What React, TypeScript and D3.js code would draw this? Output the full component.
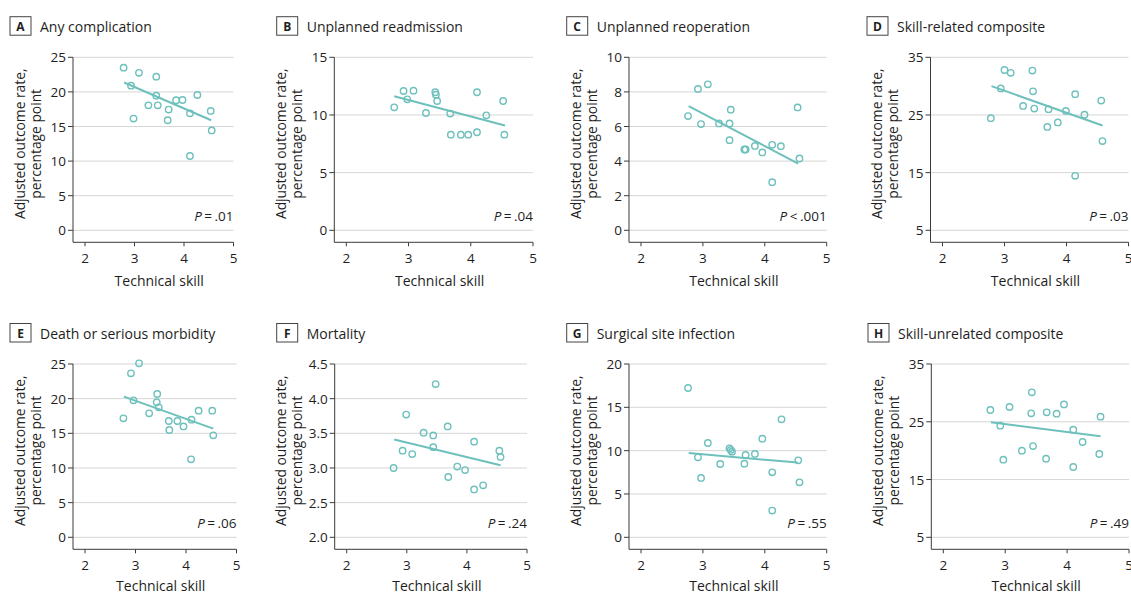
import React from "react";
import * as d3 from "d3";

// ---------- data ----------
const skillA = [2.78, 2.93, 3.09, 2.98, 3.44, 3.44, 3.28, 3.47, 3.69, 3.67, 3.84, 3.97, 4.12, 4.27, 4.54, 4.56, 4.12];
const rateA = [23.5, 20.9, 22.75, 16.15, 22.2, 19.45, 18.06, 18.06, 17.44, 15.9, 18.8, 18.83, 16.9, 19.55, 17.25, 14.43, 10.74];
const trendA = [[2.79, 21.36], [4.55, 15.9]];

const skillB = [2.77, 2.92, 2.98, 3.08, 3.28, 3.43, 3.44, 3.46, 3.67, 3.68, 3.84, 3.96, 4.1, 4.1, 4.25, 4.52, 4.54];
const rateB = [10.66, 12.08, 11.36, 12.11, 10.17, 11.97, 11.76, 11.21, 10.12, 8.29, 8.29, 8.29, 11.97, 8.5, 9.97, 11.21, 8.29];
const trendB = [[2.77, 11.62], [4.55, 9.08]];

const skillC = [2.76, 2.92, 3.08, 2.97, 3.26, 3.43, 3.45, 3.43, 3.67, 3.69, 3.84, 3.96, 4.12, 4.26, 4.12, 4.53, 4.56];
const rateC = [6.6, 8.17, 8.44, 6.14, 6.18, 6.18, 6.97, 5.21, 4.67, 4.67, 4.88, 4.5, 4.94, 4.86, 2.78, 7.1, 4.15];
const trendC = [[2.77, 7.18], [4.54, 3.86]];

const skillD = [2.78, 2.94, 3.0, 3.1, 3.3, 3.45, 3.46, 3.48, 3.69, 3.71, 3.86, 3.99, 4.14, 4.14, 4.29, 4.56, 4.58];
const rateD = [24.45, 29.6, 32.8, 32.3, 26.56, 32.7, 29.1, 26.1, 22.93, 26.0, 23.7, 25.7, 28.6, 14.44, 25.04, 27.5, 20.47];
const trendD = [[2.79, 30.0], [4.58, 23.17]];

const skillE = [2.76, 2.91, 3.07, 2.96, 3.27, 3.43, 3.42, 3.46, 3.66, 3.67, 3.83, 3.95, 4.11, 4.1, 4.25, 4.52, 4.54];
const rateE = [17.16, 23.65, 25.1, 19.76, 17.88, 20.67, 19.47, 18.75, 16.78, 15.48, 16.78, 16.0, 16.97, 11.25, 18.27, 18.27, 14.71];
const trendE = [[2.77, 20.29], [4.54, 15.67]];

const skillF = [2.78, 2.93, 2.99, 3.09, 3.28, 3.44, 3.44, 3.48, 3.68, 3.69, 3.84, 3.97, 4.12, 4.12, 4.27, 4.54, 4.56];
const rateF = [3.0, 3.25, 3.77, 3.2, 3.51, 3.47, 3.3, 4.21, 3.6, 2.87, 3.02, 2.97, 3.38, 2.69, 2.75, 3.25, 3.16];
const trendF = [[2.79, 3.41], [4.56, 3.04]];

const skillG = [2.76, 2.92, 2.97, 3.08, 3.28, 3.43, 3.45, 3.47, 3.69, 3.67, 3.84, 3.96, 4.12, 4.12, 4.27, 4.54, 4.56];
const rateG = [17.23, 9.23, 6.85, 10.88, 8.46, 10.27, 10.08, 9.88, 9.5, 8.5, 9.62, 11.38, 7.5, 3.08, 13.62, 8.88, 6.35];
const trendG = [[2.77, 9.73], [4.53, 8.62]];

const skillH = [2.76, 2.92, 2.97, 3.07, 3.27, 3.43, 3.42, 3.45, 3.67, 3.66, 3.83, 3.95, 4.1, 4.1, 4.25, 4.54, 4.52];
const rateH = [27.04, 24.33, 18.44, 27.56, 20.0, 30.1, 26.46, 20.8, 26.63, 18.61, 26.4, 28.0, 23.63, 17.17, 21.5, 25.88, 19.42];
const trendH = [[2.77, 24.9], [4.54, 22.48]];

const letters = ["A", "B", "C", "D", "E", "F", "G", "H"];
const titles = [
  "Any complication",
  "Unplanned readmission",
  "Unplanned reoperation",
  "Skill-related composite",
  "Death or serious morbidity",
  "Mortality",
  "Surgical site infection",
  "Skill-unrelated composite",
];
const pOps = ["=", "=", "<", "=", "=", "=", "=", "="];
const pValues = [".01", ".04", ".001", ".03", ".06", ".24", ".55", ".49"];
const yTicksList = [
  [0, 5, 10, 15, 20, 25],
  [0, 5, 10, 15],
  [0, 2, 4, 6, 8, 10],
  [5, 15, 25, 35],
  [0, 5, 10, 15, 20, 25],
  [2.0, 2.5, 3.0, 3.5, 4.0, 4.5],
  [0, 5, 10, 15, 20],
  [5, 15, 25, 35],
];
const xTicks = [2, 3, 4, 5];
const skills = [skillA, skillB, skillC, skillD, skillE, skillF, skillG, skillH];
const rates = [rateA, rateB, rateC, rateD, rateE, rateF, rateG, rateH];
const trends = [trendA, trendB, trendC, trendD, trendE, trendF, trendG, trendH];

// ---------- layout ----------
const W = 1131;
const H = 594;
const rowTop = [57.3, 364];
const rowBot = [230.3, 537.3];
const rowXTitle = [280, 585.5];
// [x of tick 2, x of tick 5, box x]
const colGeom = [
  [85, 233.5, 10],
  [346.3, 533, 276.7],
  [641, 826.7, 566.7],
  [942.5, 1128.5, 867],
  [85, 236.5, 10],
  [346.7, 527, 276.7],
  [641, 826.7, 566.7],
  [943.3, 1129, 868],
];

const TEAL = "#6dc0bc";
const AXIS = "#3a3a3a";
const GRID = "#d6d6d6";
const TEXT = "#1e1e1e";
const FONT = "'Open Sans', 'Liberation Sans', sans-serif";

function Panel({ i }: { i: number }) {
  const row = i < 4 ? 0 : 1;
  const [x2, x5, boxX] = colGeom[i];
  const top = rowTop[row];
  const bot = rowBot[row];
  const yTicks = yTicksList[i];
  const x = d3.scaleLinear().domain([2, 5]).range([x2, x5]);
  const y = d3
    .scaleLinear()
    .domain([yTicks[0], yTicks[yTicks.length - 1]])
    .range([bot, top]);
  const axisX = x2 - 12;
  const axisY = bot + 12;
  const boxY = row === 0 ? 16.7 : 323.5;
  const midY = (top + bot) / 2;
  const line = d3
    .line<number[]>()
    .x((d) => x(d[0]))
    .y((d) => y(d[1]));
  const fmt = i === 5 ? d3.format(".1f") : d3.format("d");
  const pts = skills[i].map((s, k) => [s, rates[i][k]]);
  return (
    <g>
      <rect x={boxX} y={boxY} width={21} height={18.5} fill="#fff" stroke="#444" strokeWidth={1} />
      <text x={boxX + 10.5} y={boxY + 9.5} textAnchor="middle" dominantBaseline="central" fontSize={12} fontWeight="bold" fill={TEXT}>
        {letters[i]}
      </text>
      <text x={boxX + 30} y={boxY + 9.5} dominantBaseline="central" fontSize={14} fill={TEXT}>
        {titles[i]}
      </text>
      {yTicks.map((t) => (
        <g key={t}>
          <line x1={axisX} x2={x5} y1={y(t)} y2={y(t)} stroke={GRID} strokeWidth={1} />
          <line x1={axisX - 5} x2={axisX} y1={y(t)} y2={y(t)} stroke={AXIS} strokeWidth={1} />
          <text x={axisX - 7} y={y(t)} textAnchor="end" dominantBaseline="central" fontSize={13.5} fill={TEXT}>
            {fmt(t)}
          </text>
        </g>
      ))}
      <line x1={axisX} x2={axisX} y1={top} y2={axisY} stroke={AXIS} strokeWidth={1} />
      <line x1={axisX} x2={x5} y1={axisY} y2={axisY} stroke={AXIS} strokeWidth={1} />
      {xTicks.map((t) => (
        <g key={t}>
          <line x1={x(t)} x2={x(t)} y1={axisY} y2={axisY + 4} stroke={AXIS} strokeWidth={1} />
          <text x={x(t)} y={axisY + 16} textAnchor="middle" dominantBaseline="central" fontSize={13.5} fill={TEXT}>
            {t}
          </text>
        </g>
      ))}
      <text x={(x2 + x5) / 2} y={rowXTitle[row]} textAnchor="middle" dominantBaseline="central" fontSize={14} fill={TEXT}>
        Technical skill
      </text>
      <g transform={`translate(${axisX - 54},${midY}) rotate(-90)`}>
        <text textAnchor="middle" dominantBaseline="central" fontSize={13.8} fill={TEXT}>
          Adjusted outcome rate,
        </text>
      </g>
      <g transform={`translate(${axisX - 38},${midY}) rotate(-90)`}>
        <text textAnchor="middle" dominantBaseline="central" fontSize={13.8} fill={TEXT}>
          percentage point
        </text>
      </g>
      <text x={x5} y={bot - 14} textAnchor="end" dominantBaseline="central" fontSize={13.5} fill={TEXT}>
        <tspan fontStyle="italic">P</tspan>
        <tspan dx={2.5}>{pOps[i]}</tspan>
        <tspan dx={2.5}>{pValues[i]}</tspan>
      </text>
      <path d={line(trends[i]) || ""} fill="none" stroke={TEAL} strokeWidth={2} />
      {pts.map((p, k) => (
        <circle key={k} cx={x(p[0])} cy={y(p[1])} r={3.2} fill="none" stroke={TEAL} strokeWidth={1.4} />
      ))}
    </g>
  );
}

export default function App() {
  return (
    <svg
      width={W}
      height={H}
      style={{ position: "absolute", left: 0, top: 0, background: "#fff" }}
      fontFamily={FONT}
    >
      <rect width={W} height={H} fill="#fff" />
      {letters.map((_, i) => (
        <Panel key={i} i={i} />
      ))}
    </svg>
  );
}
